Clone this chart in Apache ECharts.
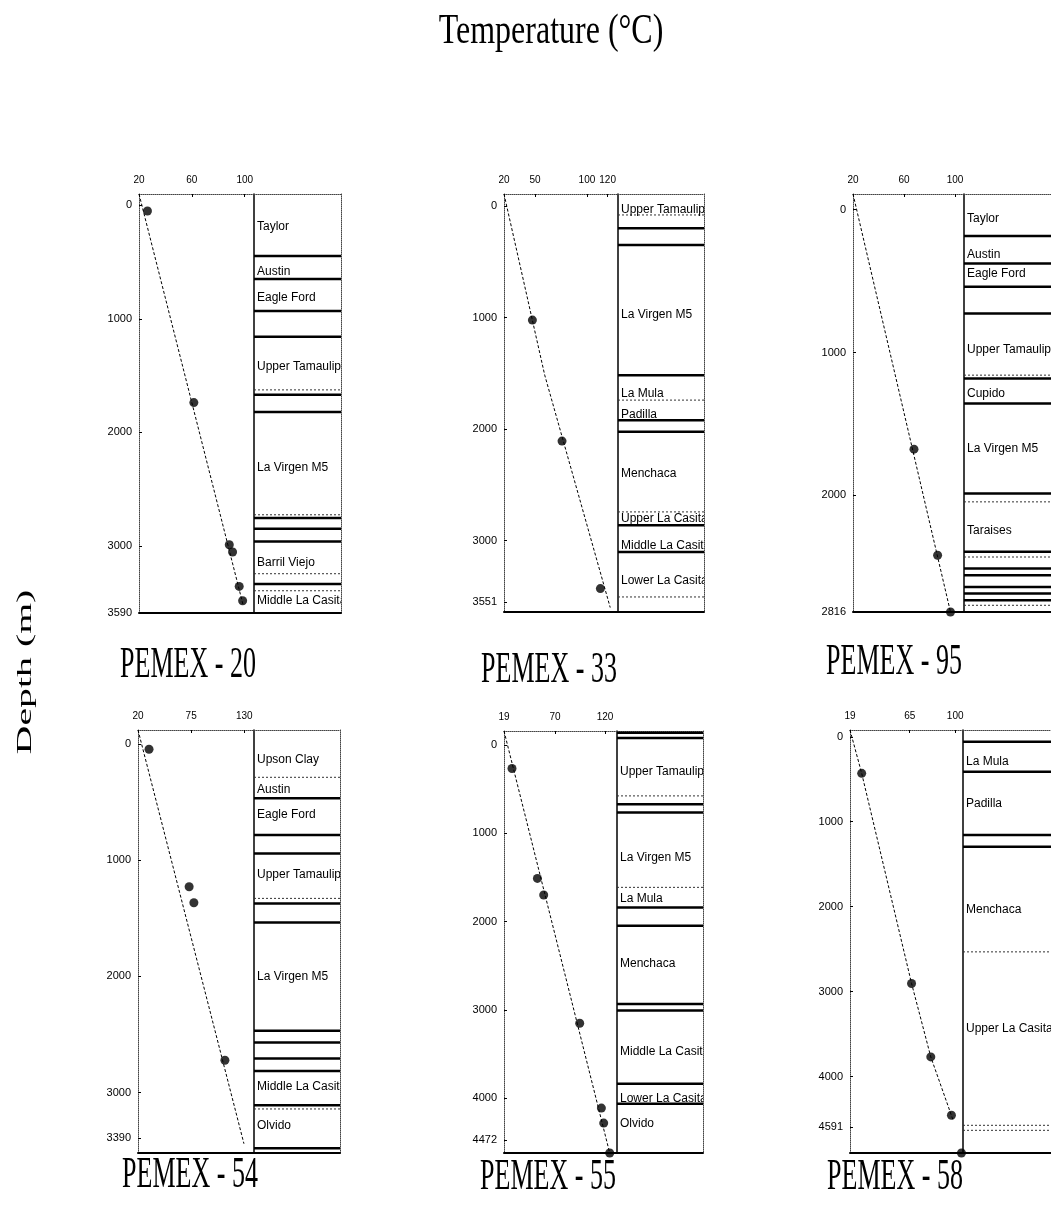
<!DOCTYPE html>
<html><head><meta charset="utf-8">
<script src="https://cdn.jsdelivr.net/npm/echarts@6/dist/echarts.min.js"></script>
<style>html,body{margin:0;padding:0;background:#fff}#c{width:1051px;height:1214px}</style>
</head><body><div id="c"></div><script>
// ---------------- DATA ----------------
const wellNames = ['PEMEX - 20', 'PEMEX - 33', 'PEMEX - 95', 'PEMEX - 54', 'PEMEX - 55', 'PEMEX - 58'];

// PEMEX-20
const p20TempRange = [20, 107];
const p20TempTicks = [20, 60, 100];
const p20DepthRange = [-100, 3590];
const p20DepthTicks = [0, 1000, 2000, 3000, 3590];
const p20Points = [[26.4, 50], [61.5, 1737], [88.3, 2989], [90.8, 3053], [95.8, 3356], [98.4, 3482]];
const p20Trend = [[20, -100], [98.7, 3517]];
const p20Major = [446, 648, 930, 1158, 1669, 1819, 2754, 2848, 2960, 3335];
const p20Minor = [1625, 2725, 3244, 3394];
const p20Units = [['Taylor', 188], ['Austin', 584], ['Eagle Ford', 815], ['Upper Tamaulipas', 1420], ['La Virgen M5', 2311], ['Barril Viejo', 3147], ['Middle La Casita', 3482]];

// PEMEX-33
const p33TempRange = [20, 130];
const p33TempTicks = [20, 50, 100, 120];
const p33DepthRange = [-110, 3640];
const p33DepthTicks = [0, 1000, 2000, 3000, 3551];
const p33Points = [[47.4, 1021], [76, 2107], [113, 3430]];
const p33Trend = [[20, -110], [59.3, 1515], [122.5, 3600]];
const p33Major = [198, 348, 1515, 1919, 2024, 2862, 3101];
const p33Minor = [78, 1739, 2742, 3505];
const p33Units = [['Upper Tamaulipas', 35], ['La Virgen M5', 976], ['La Mula', 1679], ['Padilla', 1868], ['Menchaca', 2397], ['Upper La Casita', 2801], ['Middle La Casita', 3041], ['Lower La Casita', 3355]];

// PEMEX-95
const p95TempRange = [20, 107];
const p95TempTicks = [20, 60, 100];
const p95DepthRange = [-110, 2816];
const p95DepthTicks = [0, 1000, 2000, 2816];
const p95Points = [[67.8, 1676], [86.3, 2419], [96.4, 2816]];
const p95Trend = [[20, -110], [96.4, 2816]];
const p95Major = [184, 376, 539, 726, 1181, 1356, 1987, 2395, 2512, 2559, 2641, 2687, 2734];
const p95Minor = [1158, 2045, 2431, 2769];
const p95Units = [['Taylor', 60], ['Austin', 317], ['Eagle Ford', 446], ['Upper Tamaulipas', 983], ['Cupido', 1286], ['La Virgen M5', 1671], ['Taraises', 2244]];

// PEMEX-54
const p54TempRange = [20, 140];
const p54TempTicks = [20, 75, 130];
const p54DepthRange = [-120, 3520];
const p54DepthTicks = [0, 1000, 2000, 3000, 3390];
const p54Points = [[31.4, 46], [72.9, 1229], [77.8, 1367], [109.9, 2722]];
const p54Trend = [[20, -120], [129.6, 3440]];
const p54Major = [468, 784, 942, 1372, 1536, 2469, 2569, 2707, 2814, 3109, 3480];
const p54Minor = [287, 1329, 3141];
const p54Units = [['Upson Clay', 138], ['Austin', 391], ['Eagle Ford', 612], ['Upper Tamaulipas', 1123], ['La Virgen M5', 2004], ['Middle La Casita', 2952], ['Olvido', 3281]];

// PEMEX-55
const p55TempRange = [19, 132];
const p55TempTicks = [19, 70, 120];
const p55DepthRange = [-160, 4620];
const p55DepthTicks = [0, 1000, 2000, 3000, 4000, 4472];
const p55Points = [[27, 265], [52.4, 1510], [58.7, 1698], [94.7, 3150], [116.4, 4111], [118.7, 4281], [124.7, 4620]];
const p55Trend = [[19, -160], [124.7, 4620]];
const p55Major = [-140, -80, 669, 763, 1838, 2046, 2931, 3007, 3836, 4062];
const p55Minor = [575, 1611];
const p55Units = [['Upper Tamaulipas', 304], ['La Virgen M5', 1272], ['La Mula', 1744], ['Menchaca', 2479], ['Middle La Casita', 3478], ['Lower La Casita', 4006], ['Olvido', 4289]];

// PEMEX-58
const p58TempRange = [19, 106];
const p58TempTicks = [19, 65, 100];
const p58DepthRange = [-80, 4900];
const p58DepthTicks = [0, 1000, 2000, 3000, 4000, 4591];
const p58Points = [[28, 430], [66.4, 2904], [81.2, 3769], [97.1, 4456], [104.8, 4900]];
const p58Trend = [[19, -80], [28, 430], [66.4, 2904], [81.2, 3769], [98.4, 4515]];
const p58Major = [58, 411, 1157, 1295];
const p58Minor = [2532, 4574, 4633];
const p58Units = [['La Mula', 293], ['Padilla', 784], ['Menchaca', 2041], ['Upper La Casita', 3434]];

// ---------------- LAYOUT (pixels) ----------------
const layout = [
  { plot: [139, 194, 115, 419], col: [254, 87], name: [188, 665] },
  { plot: [504, 194, 114, 418], col: [618, 86], name: [549, 670] },
  { plot: [853, 194, 111, 418], col: [964, 100], name: [894, 662] },
  { plot: [138, 730, 116, 423], col: [254, 86], name: [190, 1175] },
  { plot: [504, 731, 113, 422], col: [617, 86], name: [548, 1177] },
  { plot: [850, 730, 113, 423], col: [963, 100], name: [895, 1177] }
];

const wells = [
  { tR: p20TempRange, tT: p20TempTicks, dR: p20DepthRange, dT: p20DepthTicks, pts: p20Points, trend: p20Trend, major: p20Major, minor: p20Minor, units: p20Units },
  { tR: p33TempRange, tT: p33TempTicks, dR: p33DepthRange, dT: p33DepthTicks, pts: p33Points, trend: p33Trend, major: p33Major, minor: p33Minor, units: p33Units },
  { tR: p95TempRange, tT: p95TempTicks, dR: p95DepthRange, dT: p95DepthTicks, pts: p95Points, trend: p95Trend, major: p95Major, minor: p95Minor, units: p95Units },
  { tR: p54TempRange, tT: p54TempTicks, dR: p54DepthRange, dT: p54DepthTicks, pts: p54Points, trend: p54Trend, major: p54Major, minor: p54Minor, units: p54Units },
  { tR: p55TempRange, tT: p55TempTicks, dR: p55DepthRange, dT: p55DepthTicks, pts: p55Points, trend: p55Trend, major: p55Major, minor: p55Minor, units: p55Units },
  { tR: p58TempRange, tT: p58TempTicks, dR: p58DepthRange, dT: p58DepthTicks, pts: p58Points, trend: p58Trend, major: p58Major, minor: p58Minor, units: p58Units }
];

const grid = [], xAxis = [], yAxis = [], series = [];
const noTick = { show: false }, noLabel = { show: false }, noSplit = { show: false };
const dotted = { color: '#444', type: 'dotted', width: 1 };
const plain = v => String(v);

wells.forEach((w, i) => {
  const L = layout[i];
  const gP = grid.length;
  grid.push({ left: L.plot[0], top: L.plot[1], width: L.plot[2], height: L.plot[3] });
  const gC = grid.length;
  grid.push({ left: L.col[0], top: L.plot[1], width: L.col[1], height: L.plot[3] });

  // temperature plot axes
  const xT = xAxis.length;
  xAxis.push({
    gridIndex: gP, type: 'value', position: 'top', min: w.tR[0], max: w.tR[1],
    axisLine: { show: true, onZero: false, lineStyle: dotted },
    axisTick: { show: true, inside: true, length: 3, customValues: w.tT, lineStyle: { color: '#000' } },
    axisLabel: { customValues: w.tT, formatter: plain, fontSize: 10, margin: 9, color: '#000', fontFamily: 'Liberation Sans' },
    splitLine: noSplit
  });
  xAxis.push({
    gridIndex: gP, type: 'value', position: 'bottom', min: w.tR[0], max: w.tR[1],
    axisLine: { show: true, onZero: false, lineStyle: { color: '#000', width: 2 } },
    axisTick: noTick, axisLabel: noLabel, splitLine: noSplit
  });
  const yT = yAxis.length;
  yAxis.push({
    gridIndex: gP, type: 'value', inverse: true, position: 'left', min: w.dR[0], max: w.dR[1],
    axisLine: { show: true, onZero: false, lineStyle: dotted },
    axisTick: { show: true, inside: true, length: 3, customValues: w.dT, lineStyle: { color: '#000' } },
    axisLabel: { customValues: w.dT, formatter: plain, fontSize: 11, margin: 7, color: '#000', fontFamily: 'Liberation Sans' },
    splitLine: noSplit
  });

  // formation column axes
  const xC = xAxis.length;
  xAxis.push({
    gridIndex: gC, type: 'value', position: 'top', min: 0, max: 1,
    axisLine: { show: true, onZero: false, lineStyle: dotted },
    axisTick: noTick, axisLabel: noLabel, splitLine: noSplit
  });
  xAxis.push({
    gridIndex: gC, type: 'value', position: 'bottom', min: 0, max: 1,
    axisLine: { show: true, onZero: false, lineStyle: { color: '#000', width: 2 } },
    axisTick: noTick, axisLabel: noLabel, splitLine: noSplit
  });
  const yC = yAxis.length;
  yAxis.push({
    gridIndex: gC, type: 'value', inverse: true, position: 'left', min: w.dR[0], max: w.dR[1],
    axisLine: { show: true, onZero: false, lineStyle: { color: '#000', width: 1.5 } },
    axisTick: noTick, axisLabel: noLabel, splitLine: noSplit
  });
  yAxis.push({
    gridIndex: gC, type: 'value', inverse: true, position: 'right', min: w.dR[0], max: w.dR[1],
    axisLine: { show: true, onZero: false, lineStyle: dotted },
    axisTick: noTick, axisLabel: noLabel, splitLine: noSplit
  });

  series.push({
    type: 'line', xAxisIndex: xT, yAxisIndex: yT, data: w.trend, symbol: 'none',
    lineStyle: { color: '#000', width: 1, type: [3, 2] }, silent: true, z: 2
  });
  series.push({
    type: 'scatter', xAxisIndex: xT, yAxisIndex: yT, data: w.pts, symbol: 'circle', symbolSize: 9,
    itemStyle: { color: '#000' }, silent: true, z: 3, clip: false
  });
  const lineRender = (width, dash, color) => (params, api) => {
    const d = api.value(1);
    const p0 = api.coord([0, d]);
    const p1 = api.coord([1, d]);
    return { type: 'line', shape: { x1: p0[0], y1: p0[1], x2: p1[0], y2: p1[1] },
      style: { stroke: color, lineWidth: width, lineDash: dash } };
  };
  series.push({
    type: 'custom', xAxisIndex: xC, yAxisIndex: yC, clip: true, silent: true,
    data: w.major.map(d => [0, d]), renderItem: lineRender(2.5, null, '#000')
  });
  series.push({
    type: 'custom', xAxisIndex: xC, yAxisIndex: yC, clip: true, silent: true,
    data: w.minor.map(d => [0, d]), renderItem: lineRender(1, [2, 2], '#333')
  });
  series.push({
    type: 'custom', xAxisIndex: xC, yAxisIndex: yC, clip: true, silent: true,
    data: w.units.map(u => [0, u[1]]),
    renderItem: (params, api) => {
      const p = api.coord([0, api.value(1)]);
      return { type: 'text', x: p[0] + 3, y: p[1],
        style: { text: w.units[params.dataIndex][0], fill: '#000', font: '12px "Liberation Sans"',
          textAlign: 'left', textVerticalAlign: 'middle' } };
    }
  });
});

const serif = '"Liberation Serif", "DejaVu Serif", serif';
const graphic = [
  { type: 'text', x: 551, y: 32, scaleY: 1.3,
    style: { text: 'Temperature (°C)', font: '32px ' + serif, fill: '#000', textAlign: 'center', textVerticalAlign: 'middle' } },
  { type: 'text', x: 25, y: 672, rotation: Math.PI / 2, scaleX: 1.81,
    style: { text: 'Depth (m)', font: '22px ' + serif, fill: '#000', textAlign: 'center', textVerticalAlign: 'middle' } }
];
wellNames.forEach((n, i) => {
  graphic.push({ type: 'text', x: layout[i].name[0], y: layout[i].name[1], scaleY: 1.7,
    style: { text: n, font: '26px ' + serif, fill: '#000', textAlign: 'center', textVerticalAlign: 'middle' } });
});

const chart = echarts.init(document.getElementById('c'), null, { renderer: 'canvas' });
chart.setOption({
  animation: false,
  backgroundColor: '#fff',
  grid, xAxis, yAxis, series, graphic
});
</script></body></html>
